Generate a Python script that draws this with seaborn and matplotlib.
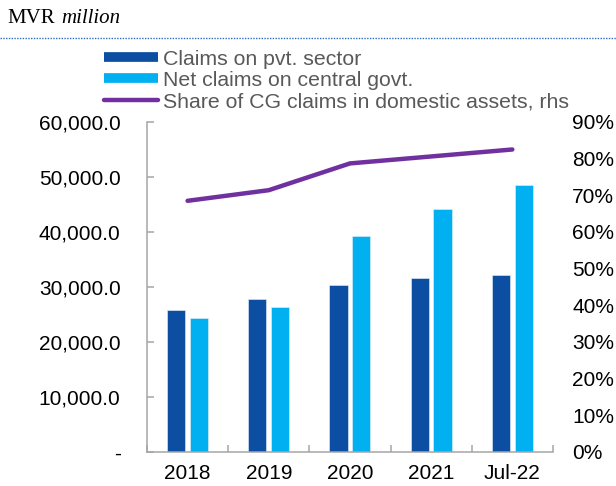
import numpy as np
import pandas as pd
import matplotlib.pyplot as plt
import seaborn as sns
from matplotlib.lines import Line2D
from matplotlib.ticker import FuncFormatter, FixedLocator

periods = ['2018', '2019', '2020', '2021', 'Jul-22']
pvt_claims = [25800, 27800, 30400, 31700, 32200]
cg_claims = [24300, 26300, 39200, 44100, 48500]
cg_share = [0.685, 0.714, 0.787, 0.806, 0.825]

series_names = ['Claims on pvt. sector', 'Net claims on central govt.']
line_name = 'Share of CG claims in domestic assets, rhs'
colors = ['#0B4EA2', '#00B0F0']
line_color = '#7030A0'
axis_grey = '#A6A6A6'

sns.set_style('white')
plt.rcParams['font.family'] = ['Liberation Sans', 'DejaVu Sans']

data = pd.DataFrame({
    'period': periods * 2,
    'value': pvt_claims + cg_claims,
    'series': [series_names[0]] * len(periods) + [series_names[1]] * len(periods),
})

fig = plt.figure(figsize=(6.16, 4.86), dpi=100)
ax = fig.add_axes([0.2386, 0.07, 0.659, 0.679])

sns.barplot(data=data, x='period', y='value', hue='series', order=periods,
            hue_order=series_names, palette=colors, saturation=1, width=0.56, gap=0.2,
            edgecolor='#E8F0FA', linewidth=0.4, legend=False, ax=ax)

ax2 = ax.twinx()
sns.pointplot(x=periods, y=cg_share, order=periods, color=line_color, markers='',
              linewidth=3.2, ax=ax2)
for ln in ax2.lines:
    ln.set_solid_capstyle('round')

# left axis
ax.set_ylim(0, 60000)
ax.set_xlim(-0.5, len(periods) - 0.5)
ax.set_yticks(np.arange(0, 60001, 10000))
ax.yaxis.set_major_formatter(FuncFormatter(lambda v, p: '-' if v == 0 else f'{v:,.1f}'))
ax.tick_params(axis='y', direction='in', length=5, width=1.1, color=axis_grey,
               pad=19, labelsize=15, labelcolor='#000000', left=True)
ax.set_xlabel('')
ax.set_ylabel('')

# x axis: labels at centres, ticks between categories
ax.set_xticks(range(len(periods)))
ax.set_xticklabels(periods)
ax.xaxis.set_minor_locator(FixedLocator(np.arange(-0.5, len(periods), 1.0)))
ax.tick_params(axis='x', which='major', length=0, pad=8.5, labelsize=15, labelcolor='#000000')
ax.tick_params(axis='x', which='minor', direction='in', length=5, width=1.1,
               color=axis_grey, bottom=True)

for side in ['top', 'right']:
    ax.spines[side].set_visible(False)
for side in ['left', 'bottom']:
    ax.spines[side].set_color(axis_grey)
    ax.spines[side].set_linewidth(1.1)

# right axis
ax2.set_ylim(0, 0.9)
ax2.set_yticks(np.arange(0, 0.91, 0.1))
ax2.yaxis.set_major_formatter(FuncFormatter(lambda v, p: f'{v:.0%}'))
ax2.tick_params(axis='y', length=0, pad=14, labelsize=15, labelcolor='#000000')
ax2.set_ylabel('')
for side in ['top', 'right', 'left', 'bottom']:
    ax2.spines[side].set_visible(False)

# legend
handles = [
    Line2D([], [], color=colors[0], linewidth=7, solid_capstyle='butt'),
    Line2D([], [], color=colors[1], linewidth=7, solid_capstyle='butt'),
    Line2D([], [], color=line_color, linewidth=3.2, solid_capstyle='round'),
]
fig.legend(handles, series_names + [line_name], loc='upper left',
           bbox_to_anchor=(0.155, 0.915), frameon=False, fontsize=15.3,
           handlelength=2.55, handletextpad=0.25, labelspacing=0.1,
           labelcolor='#595959', borderaxespad=0)

# unit label and dotted rule
fig.text(0.012, 0.962, 'MVR', family='Liberation Serif', fontsize=15,
         ha='left', va='center', color='#000000')
fig.text(0.099, 0.962, 'million', family='Liberation Serif', style='italic',
         fontsize=15, ha='left', va='center', color='#000000')
fig.add_artist(Line2D([0, 1], [0.922, 0.922], transform=fig.transFigure,
                      color='#2E6BC4', linestyle=(0, (1, 1)), linewidth=1.0))

plt.savefig('out.png', dpi=100)
